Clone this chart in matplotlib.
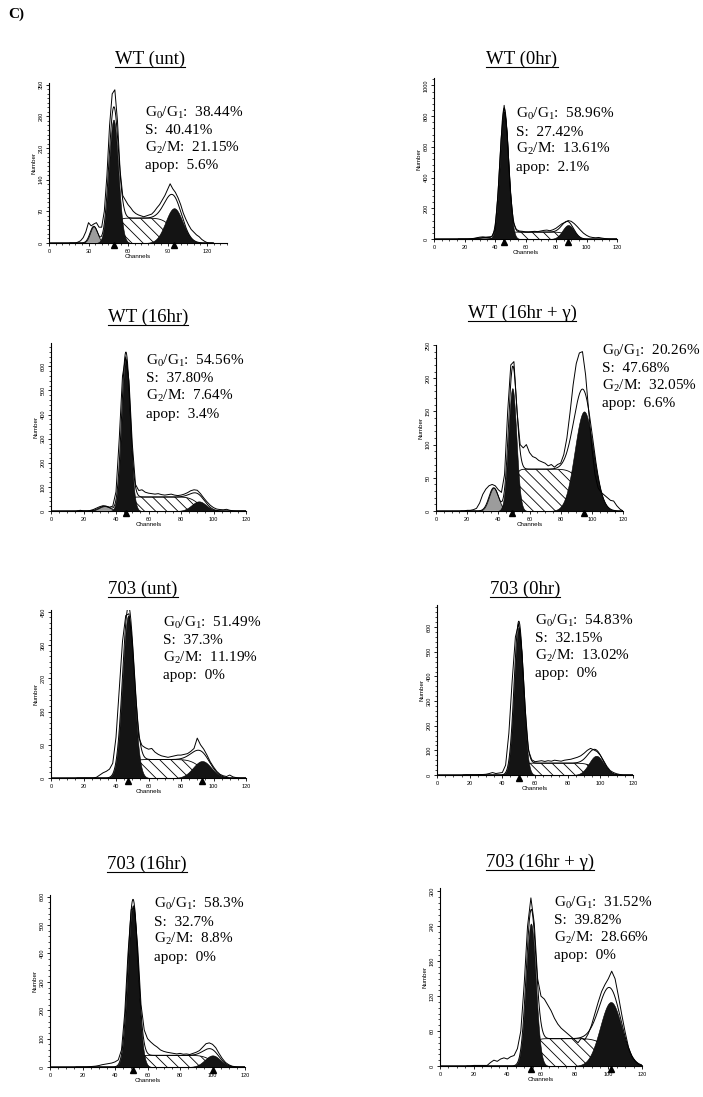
import math
import numpy as np
import matplotlib
matplotlib.use('Agg')
import matplotlib.pyplot as plt
from matplotlib.ticker import MultipleLocator
from matplotlib.transforms import offset_copy
from matplotlib.lines import Line2D

plt.rcParams['font.family'] = ['Liberation Serif', 'DejaVu Serif']
plt.rcParams['mathtext.fontset'] = 'custom'
plt.rcParams['mathtext.rm'] = 'Liberation Serif'
plt.rcParams['mathtext.it'] = 'Liberation Serif:italic'
plt.rcParams['hatch.linewidth'] = 0.6

W, H = 703, 1097

# panel labels and ModFit percentages
titles = ['WT (unt)', 'WT (0hr)', 'WT (16hr)', 'WT (16hr + γ)',
          '703 (unt)', '703 (0hr)', '703 (16hr)', '703 (16hr + γ)']
g1_pct = ['38.44', '58.96', '54.56', '20.26', '51.49', '54.83', '58.3', '31.52']
s_pct = ['40.41', '27.42', '37.80', '47.68', '37.3', '32.15', '32.7', '39.82']
g2_pct = ['21.15', '13.61', '7.64', '32.05', '11.19', '13.02', '8.8', '28.66']
apop_pct = ['5.6', '2.1', '3.4', '6.6', '0', '0', '0', '0']

# raw DNA histograms, channels 16..124 every 2 channels
channels = list(range(16, 126, 2))
raw_wt_unt = [0, 0, 0, 2, 5, 12, 25, 45, 38, 42, 45, 35,
              35, 70, 150, 260, 330, 339, 270, 160, 105, 95, 85,
              78, 70, 65, 62, 60, 58, 60, 62, 64, 70, 78, 85, 95, 105, 118, 131,
              120, 112, 100, 85, 66, 52, 40, 30, 24, 18, 14, 8, 4, 1, 0, 0]
raw_wt_0hr = [0, 0, 0, 0, 2, 4, 8, 12, 14, 12, 14, 16,
              60, 300, 650, 870, 690, 320, 110, 62, 52, 50, 46,
              45, 48, 50, 48, 52, 56, 58, 54, 60, 70, 85, 100, 108, 120, 115, 100,
              80, 58, 38, 24, 14, 10, 8, 10, 6, 3, 1, 0, 0, 0, 0, 0]
raw_wt_16hr = [0, 3, 0, 0, 2, 6, 12, 18, 22, 20, 16, 20,
               80, 300, 560, 640, 540, 280, 110, 85, 88, 78, 74,
               72, 70, 72, 68, 66, 68, 70, 66, 64, 66, 70, 76, 84, 88, 86, 72,
               54, 38, 24, 14, 8, 6, 5, 7, 3, 1, 0, 0, 0, 0, 0, 0]
raw_wt_16hr_g = [0, 0, 1, 1, 2, 4, 12, 25, 33, 38, 40, 38, 32, 28, 55, 150, 220, 225,
                 150, 100, 95, 100, 88, 82, 80, 76, 74, 72, 68, 70, 66, 70, 72, 85, 110,
                 148, 190, 222, 238, 240, 205, 150, 95, 55, 35, 28, 24, 20, 16, 15, 8,
                 3, 0, 0, 0]
raw_703_unt = [0, 0, 0, 0, 0, 0, 2, 8, 14, 18, 24,
               40, 110, 240, 370, 440, 445, 370, 230, 110, 88,
               82, 78, 80, 70, 64, 60, 58, 56, 58, 60, 62, 62, 64, 66, 72, 80, 108,
               90, 78, 62, 44, 30, 18, 10, 6, 4, 8, 3, 1, 0, 0, 0, 0, 0]
raw_703_0hr = [0, 1, 1, 1, 1, 2, 2, 3, 6, 10, 6, 8, 10,
               40, 170, 380, 560, 615, 500, 270, 100, 62,
               54, 56, 58, 55, 58, 56, 60, 58, 56, 60, 62, 64, 68, 72, 78, 88, 100,
               108, 102, 95, 80, 58, 35, 18, 10, 5, 2, 0, 0, 0, 0, 0, 0]
raw_703_16hr = [0, 0, 0, 0, 1, 2, 3, 5, 8, 10, 12, 14, 18,
                25, 60, 190, 400, 555, 560, 420, 220, 130, 100,
                88, 78, 70, 60, 55, 52, 50, 48, 46, 48, 45, 46, 44, 48, 52, 58, 70,
                82, 85, 80, 68, 48, 30, 16, 8, 3, 1, 0, 0, 0, 0, 0]
raw_703_16hr_g = [0, 0, 1, 1, 1, 1, 1, 6, 10, 8, 12, 14, 12, 16, 18,
                  30, 60, 140, 240, 289, 245, 150, 120,
                  115, 105, 95, 82, 72, 65, 60, 55, 50, 45, 40, 48, 45, 55, 70, 90,
                  110, 128, 140, 150, 163, 150, 120, 88, 58, 32, 16, 8, 3, 0, 0, 0]
raw_counts = [raw_wt_unt, raw_wt_0hr, raw_wt_16hr, raw_wt_16hr_g,
              raw_703_unt, raw_703_0hr, raw_703_16hr, raw_703_16hr_g]

# fitted model components (mean channel, sd, peak height)
g1_mean = [49, 46, 46, 49, 47.5, 50, 51, 54]
g1_sd = [3.6, 2.8, 2.6, 2.6, 3.5, 2.8, 3.1, 2.9]
g1_height = [273, 830, 630, 185, 440, 600, 570, 245]
g2_mean = [95, 88, 91, 95, 93, 97.5, 100, 101.5]
g2_sd = [6.5, 3.8, 4.5, 6.0, 5.6, 4.5, 4.8, 6.4]
g2_height = [77, 91, 40, 150, 46, 78, 41, 110]
g2_marker = [True, True, False, True, True, False, True, True]
s_height = [55, 45, 58, 63, 50, 48, 41, 47]
apop_mean = [34, 33, 33, 37, 0, 0, 0, 0]
apop_sd = [2.8, 4.0, 3.5, 3.0, 1, 1, 1, 1]
apop_height = [37, 10, 20, 35, 0, 0, 0, 0]

# axis scales
y_max = [354, 1048, 697, 250, 455, 690, 606, 306]
y_step = [70, 200, 100, 50, 90, 100, 100, 60]
y_minor = [10, 40, 20, 10, 15, 20, 20, 10]
x_max = [135, 120, 120, 120, 120, 120, 120, 120]
x_step = [30, 20, 20, 20, 20, 20, 20, 20]

# layout in pixels: x of channel 0, x of channel 120, baseline y, top y
x0_px = [49, 434, 51, 436, 51, 437, 50, 440]
x120_px = [207, 617, 246, 623, 246, 633, 245, 642]
base_px = [243, 239, 511, 511, 778, 775, 1067, 1066]
top_px = [83, 78, 343, 345, 610, 605, 895, 888]
title_xy = [(150, 59), (522, 59), (148, 317), (522, 313),
            (143, 589), (525, 589), (147, 864), (540, 862)]
stats_xy = [(145, 117), (516, 118), (146, 365), (602, 355),
            (163, 627), (535, 625), (154, 908), (554, 907)]


def gauss(x, mu, sd, h):
    return h * np.exp(-(x - mu) ** 2 / (2 * sd ** 2))


def plateau(x, h, a, sa, b, sb):
    left = np.array([math.erf((v - a) / (sa * math.sqrt(2))) for v in x])
    right = np.array([math.erf((v - b) / (sb * math.sqrt(2))) for v in x])
    return h * 0.5 * (left - right)


fig = plt.figure(figsize=(W / 100, H / 100), dpi=100)
fig.text(8 / W, 1 - 18 / H, 'C)', fontsize=11, fontweight='bold', ha='left',
         va='baseline')

title_texts = []
xf = np.linspace(0, 125, 800)
for i in range(8):
    px_per_ch = (x120_px[i] - x0_px[i]) / 120
    left = x0_px[i] / W
    width = px_per_ch * x_max[i] / W
    bottom = 1 - base_px[i] / H
    height = (base_px[i] - top_px[i]) / H
    ax = fig.add_axes([left, bottom, width, height])

    g1 = gauss(xf, g1_mean[i], g1_sd[i], g1_height[i])
    g2 = gauss(xf, g2_mean[i], g2_sd[i], g2_height[i])
    sp = plateau(xf, s_height[i], g1_mean[i], g1_sd[i], g2_mean[i], g2_sd[i])
    ap = gauss(xf, apop_mean[i], apop_sd[i], apop_height[i])
    fit = g1 + g2 + sp + ap

    ax.fill_between(xf, 0, sp, facecolor='white', edgecolor='black',
                    hatch='\\\\\\', linewidth=0, zorder=1)
    ax.plot(xf, sp, color='black', lw=0.6, zorder=2)
    if apop_height[i] > 0:
        ax.fill_between(xf, 0, ap, facecolor='#9c9c9c', edgecolor='black',
                        linewidth=0.5, zorder=3)
    ax.fill_between(xf, 0, g1, facecolor='#141414', edgecolor='black',
                    linewidth=0.4, zorder=4)
    ax.fill_between(xf, 0, g2, facecolor='#141414', edgecolor='black',
                    linewidth=0.4, zorder=4)
    ax.plot(xf, fit, color='black', lw=0.7, zorder=5)
    ax.plot(channels, raw_counts[i], color='black', lw=0.7, zorder=6)

    tri = offset_copy(ax.transData, fig=fig, y=-2.5, units='dots')
    ax.plot([g1_mean[i]], [0], marker='^', ms=4.5, color='black',
            transform=tri, clip_on=False, zorder=7)
    if g2_marker[i]:
        ax.plot([g2_mean[i]], [0], marker='^', ms=4.5, color='black',
                transform=tri, clip_on=False, zorder=7)

    ax.set_xlim(0, x_max[i])
    ax.set_ylim(0, y_max[i])
    ax.set_facecolor('none')
    for side in ['top', 'right']:
        ax.spines[side].set_visible(False)
    for side in ['left', 'bottom']:
        ax.spines[side].set_linewidth(0.8)
    ax.xaxis.set_major_locator(MultipleLocator(x_step[i]))
    ax.xaxis.set_minor_locator(MultipleLocator(5))
    ax.yaxis.set_major_locator(MultipleLocator(y_step[i]))
    ax.yaxis.set_minor_locator(MultipleLocator(y_minor[i]))
    ax.tick_params(which='major', length=2.5, width=0.6, labelsize=4,
                   pad=1.5, labelfontfamily='Liberation Sans')
    ax.tick_params(which='minor', length=1.5, width=0.5)
    ax.tick_params(axis='y', labelrotation=90)
    for lab in ax.get_yticklabels():
        lab.set_va('center')
    ax.set_xlabel('Channels', fontsize=4.5, labelpad=0.5,
                  fontfamily='Liberation Sans')
    ax.set_ylabel('Number', fontsize=4.5, labelpad=1.5,
                  fontfamily='Liberation Sans')

    tx, ty = title_xy[i]
    title_texts.append(fig.text(tx / W, 1 - ty / H, titles[i], fontsize=13.5,
                                ha='center', va='center'))

    sx, sy = stats_xy[i]
    lines = ['G$_0$/G$_1$:  ' + g1_pct[i] + '%',
             'S:  ' + s_pct[i] + '%',
             'G$_2$/M:  ' + g2_pct[i] + '%',
             'apop:  ' + apop_pct[i] + '%']
    for k, line in enumerate(lines):
        fig.text(sx / W, 1 - (sy + 17.5 * k) / H, line, fontsize=11,
                 ha='left', va='baseline')

# underline the panel titles
fig.canvas.draw()
renderer = fig.canvas.get_renderer()
for t in title_texts:
    bb = t.get_window_extent(renderer)
    yl = (bb.y0 + 1.0) / H
    fig.add_artist(Line2D([bb.x0 / W, bb.x1 / W], [yl, yl], color='black',
                          lw=0.8, transform=fig.transFigure))

fig.savefig('out.png', dpi=100)
